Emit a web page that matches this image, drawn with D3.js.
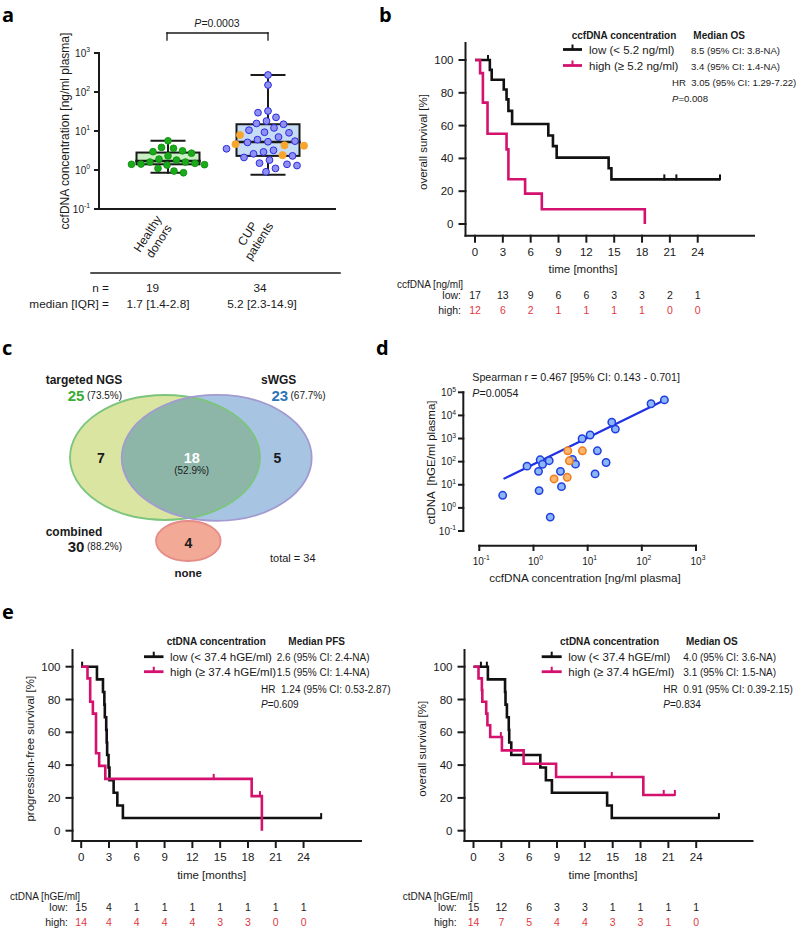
<!DOCTYPE html>
<html><head><meta charset="utf-8">
<script src="https://cdn.jsdelivr.net/npm/d3@7"></script>
<style>body{margin:0;background:#fff}svg{display:block}</style>
</head><body><svg id="c" width="800" height="928"></svg>
<script>
// ================= DATA =================
// Panel a
const aGroupLines = [["Healthy","donors"],["CUP","patients"]];
const aHealthy = [5.6,3.6,2.95,3.1,3.8,2.7,2.3,1.8,1.6,1.6,1.9,1.4,1.42,1.48,1.34,1.37,1.1,0.85,0.94];
const aCupBlue = [273,151,32.6,29.5,22.4,18,15.6,14.9,12,10.5,9.3,9,7,6,5.5,5.3,5.1,3.5,3.2,2.9,2.6,2.3,2.1,1.8,1.5,1.4,1.3,1.1,0.9];
const aCupOrange = [7.9,4.6,4.3,4.2,2.4];
const aQ1 = [1.4,2.3], aMed = [1.7,5.2], aQ3 = [2.8,14.9], aWLo = [0.85,0.75], aWHi = [5.6,273];
const aN = ["19","34"];
const aMedIQR = ["1.7 [1.4-2.8]","5.2 [2.3-14.9]"];
const aPval = "0.0003";
const logTicksA = [0.1,1,10,100,1000];
const logTicksD = [0.1,1,10,100,1000,10000,100000];
const logTicksDx = [0.1,1,10,100,1000];

// KM shared
const kmTicks = [0,3,6,9,12,15,18,21,24];
const kmYTicks = [0,20,40,60,80,100];

// Panel b (OS by ccfDNA)
const bLowT = [0,1.6,1.8,3.1,3.4,3.6,4.0,7.9,8.4,8.8,14.4,14.7,26.4];
const bLowS = [100,94,88,82,76,69,61,54,47.5,40.5,34,27.2,27.2];
const bLowCens = [1.4,20.4,21.7,26.4];
const bHighT = [0,0.55,0.85,1.35,3.4,3.6,5.4,7.2,18.3];
const bHighS = [100,92,74,55,45.5,27.3,18.5,9,0];
const bHighCens = [];
const bRiskLow = [17,13,9,6,6,3,3,2,1];
const bRiskHigh = [12,6,2,1,1,1,1,0,0];

// Panel e left (PFS by ctDNA)
const eLLowT = [0,1.7,2.35,2.5,2.55,2.7,2.75,2.8,2.95,3.05,3.5,3.9,4.5,25.9];
const eLLowS = [100,92.3,84.6,76.9,69.2,61.5,53.8,46.2,38.5,30.8,23.1,15.4,7.7,7.7];
const eLLowCens = [0.1,25.9];
const eLHighT = [0,0.68,0.97,1.26,1.6,1.94,2.6,18.4,19.5];
const eLHighS = [100,92.9,78.6,71.4,47.2,39.5,31.6,21.1,0];
const eLHighCens = [14.3,19.3];
const eLRiskLow = [15,4,1,1,1,1,1,1,1];
const eLRiskHigh = [14,4,4,4,4,3,3,0,0];

// Panel e right (OS by ctDNA)
const eRLowT = [0,1.55,3.4,3.45,3.6,3.8,3.85,4.07,7.2,7.8,8.45,14.4,14.9,26.45];
const eRLowS = [100,92.3,84.6,76.9,69.2,61.5,53.8,46.2,38.5,30.8,23.1,15.4,7.7,7.7];
const eRLowCens = [0.8,1.44,26.45];
const eRHighT = [0,0.54,0.9,0.95,1.37,1.5,1.8,3.06,5.4,8.9,18.3,21.7];
const eRHighS = [100,92.9,85.7,78.6,71.4,64.3,57.1,49,40.8,32.7,21.8,21.8];
const eRHighCens = [2.95,14.9,20.5,21.7];
const eRRiskLow = [15,12,6,3,3,1,1,1,1];
const eRRiskHigh = [14,7,5,4,4,3,3,1,0];

// Panel c (Venn)
const vennNames = ["targeted NGS","sWGS"];
const vennTotals = [25,23];
const vennTotalsPct = ["(73.5%)","(67.7%)"];
const vennOnly = [7,5];
const vennBoth = 18, vennBothPct = "(52.9%)";
const vennNone = 4, vennCombined = 30, vennCombinedPct = "(88.2%)", vennTotal = 34;

// Panel d (scatter)
const dBlueX = [0.27,0.76,1.33,1.47,1.24,1.95,1.27,2.04,3.15,3.29,5.25,5.97,7.9,11.1,15.1,13.7,21.9,27.9,32.5,148,261];
const dBlueY = [3.5,64,120,77,38,110,5.6,0.40,38,8.3,125,78,980,1420,295,29.5,92,5100,2560,32000,47000];
const dOrangeX = [4.3,8.0,4.6,2.4,4.2];
const dOrangeY = [295,295,109,17.8,21];
const dFitX = [0.28,265];
const dFitY = [18,46000];

// ================= DRAW =================
const F = '"Liberation Sans", Arial, Helvetica, sans-serif';
const svg = d3.select("#c");
svg.append("rect").attr("width",800).attr("height",928).attr("fill","#fff");
const INK = "#1a1a1a";
const PINK = "#d4116e", RED = "#e2383e";

function T(sel,x,y,s,o={}){
  const t = sel.append("text").attr("x",x).attr("y",y).attr("dy","0.35em")
    .attr("font-family",o.family||F).attr("font-size",o.size||11.5)
    .attr("font-weight",o.weight||"normal").attr("fill",o.fill||INK)
    .attr("text-anchor",o.anchor||"start").style("white-space","pre");
  if(o.rotate!=null) t.attr("transform",`rotate(${o.rotate},${x},${y})`);
  if(s!=null) t.text(s);
  return t;
}
function pTxt(sel,x,y,val,o={}){
  const t=T(sel,x,y,null,o);
  t.append("tspan").attr("font-style","italic").text("P");
  t.append("tspan").text("="+val);
  return t;
}
function pow10(sel,x,y,v,size,anchor){
  const e = Math.round(Math.log10(v));
  const t=T(sel,x,y,null,{size,anchor});
  t.append("tspan").text("10");
  t.append("tspan").attr("dy",-size*0.42).attr("font-size",size*0.68).text(String(e));
  return t;
}
function line(sel,x1,y1,x2,y2,w=2,c=INK){
  return sel.append("line").attr("x1",x1).attr("y1",y1).attr("x2",x2).attr("y2",y2)
    .attr("stroke",c).attr("stroke-width",w).attr("stroke-linecap","square");
}

// panel letters
const LF = '"Open Sans", "Liberation Sans", Arial, sans-serif';
[["a",2,22],["b",379,22],["c",2,355],["d",376,355],["e",2,619]].forEach(([s,x,y])=>{
  svg.append("text").attr("x",x).attr("y",y).attr("font-family",LF).attr("font-weight",700)
    .attr("font-size",20).attr("fill","#000").text(s);
});

// ---------- Panel a ----------
{
  const g = svg.append("g");
  const y = d3.scaleLog().domain([0.1,1000]).range([209,53]);
  const cx = [168,268];
  line(g,99,53,99,209);
  line(g,99,209,335,209);
  logTicksA.forEach(v=>{ line(g,95,y(v),99,y(v)); pow10(g,90,y(v),v,10,"end"); });
  T(g,65,131,"ccfDNA concentration [ng/ml plasma]",{size:12,anchor:"middle",rotate:-90});
  line(g,cx[0]-1,33,cx[1],33,1.3); line(g,cx[0]-1,33,cx[0]-1,40,1.3); line(g,cx[1],33,cx[1],40,1.3);
  pTxt(g,217,23.5,aPval,{size:10.5,anchor:"middle"});
  const fills = ["#c9f0c3","#c6dcf4"];
  cx.forEach((c,i)=>{
    line(g,c,y(aWLo[i]),c,y(aWHi[i]),2);
    line(g,c-16.5,y(aWLo[i]),c+16.5,y(aWLo[i]),2);
    line(g,c-16.5,y(aWHi[i]),c+16.5,y(aWHi[i]),2);
    g.append("rect").attr("x",c-31.5).attr("width",63).attr("y",y(aQ3[i])).attr("height",y(aQ1[i])-y(aQ3[i]))
      .attr("fill",fills[i]).attr("stroke",INK).attr("stroke-width",2);
    line(g,c-31.5,y(aMed[i]),c+31.5,y(aMed[i]),2.5);
  });
  function swarm(vals,cxp,sp){
    const pts = vals.map(v=>({v,y:y(v)}));
    const order = pts.slice().sort((a,b)=>a.y-b.y);
    const placed=[];
    order.forEach((p,k)=>{
      for(let o=0;o<60;o+=0.5){
        const sgn = (k%2===0)?1:-1;
        let ok=false;
        for(const s of [sgn,-sgn]){
          const xx = cxp + s*o;
          if(placed.every(q=>Math.hypot(q.x-xx,q.y-p.y)>=sp)){p.x=xx;ok=true;break;}
        }
        if(ok)break;
      }
      placed.push(p);
    });
    return pts;
  }
  const gp = swarm(aHealthy,cx[0],9.2);
  g.selectAll(".hp").data(gp).join("circle").attr("cx",d=>d.x).attr("cy",d=>d.y).attr("r",3.4)
    .attr("fill","#1aab1a").attr("stroke","#0f8a0f").attr("stroke-width",0.8);
  const cupAll = aCupBlue.map(v=>({v,o:false})).concat(aCupOrange.map(v=>({v,o:true})));
  const cp = swarm(cupAll.map(d=>d.v),cx[1],10);
  cp.forEach((p,i)=>p.o=cupAll[i].o);
  g.selectAll(".cb").data(cp.filter(d=>!d.o)).join("circle").attr("cx",d=>d.x).attr("cy",d=>d.y).attr("r",3.4)
    .attr("fill","#9090f2").attr("stroke","#2c2ce0").attr("stroke-width",1);
  g.selectAll(".co").data(cp.filter(d=>d.o)).join("circle").attr("cx",d=>d.x).attr("cy",d=>d.y).attr("r",3.6)
    .attr("fill","#f7a52e").attr("stroke","#f7a52e").attr("stroke-width",0.8);
  cx.forEach((c,i)=>{
    const t = g.append("text").attr("transform",`translate(${c-17},236) rotate(-57)`)
      .attr("font-family",F).attr("font-size",12).attr("fill",INK).attr("text-anchor","middle");
    t.append("tspan").attr("x",0).attr("y",0).text(aGroupLines[i][0]);
    t.append("tspan").attr("x",0).attr("y",13.5).text(aGroupLines[i][1]);
  });
  line(g,91,273,340,273,1.5);
  T(g,109,288,"n =",{size:11.8,anchor:"end"});
  T(g,109,304,"median [IQR] =",{size:11.8,anchor:"end"});
  T(g,152.5,288,aN[0],{size:11.8,anchor:"middle"});
  T(g,260,288,aN[1],{size:11.8,anchor:"middle"});
  T(g,158,304,aMedIQR[0],{size:11.8,anchor:"middle"});
  T(g,262,304,aMedIQR[1],{size:11.8,anchor:"middle"});
}

// ---------- KM helper ----------
function km(cfg){
  const g = svg.append("g");
  const x = d3.scaleLinear().domain([0,24]).range([cfg.t0X,cfg.t0X+24*cfg.ppm]);
  const y = d3.scaleLinear().domain([0,100]).range([cfg.y0,cfg.y100]);
  line(g,cfg.axisX,cfg.axisTop,cfg.axisX,cfg.axisY);
  line(g,cfg.axisX,cfg.axisY,cfg.axisRight,cfg.axisY);
  kmYTicks.forEach(v=>{ line(g,cfg.axisX-6,y(v),cfg.axisX,y(v)); T(g,cfg.axisX-12,y(v),String(v),{size:11.5,anchor:"end"}); });
  kmTicks.forEach(v=>{ line(g,x(v),cfg.axisY,x(v),cfg.axisY+6); T(g,x(v),cfg.axisY+16,String(v),{size:11.5,anchor:"middle"}); });
  T(g,cfg.axisX-43,(y(0)+y(100))/2,cfg.ylab,{size:11.5,anchor:"middle",rotate:-90});
  T(g,cfg.xlabX,cfg.axisY+33.5,"time [months]",{size:11.5,anchor:"middle"});
  const ln = d3.line().x(d=>x(d[0])).y(d=>y(d[1])).curve(d3.curveStepAfter);
  function curve(Tt,S,cens,col){
    g.append("path").attr("d",ln(Tt.map((t,i)=>[t,S[i]]))).attr("fill","none").attr("stroke",col)
      .attr("stroke-width",2.6).attr("stroke-linejoin","miter");
    cens.forEach(c=>{
      let s=S[0]; Tt.forEach((t,i)=>{ if(t<=c) s=S[i]; });
      line(g,x(c),y(s)+1,x(c),y(s)-5,2,col).attr("stroke-linecap","butt");
    });
  }
  curve(cfg.lowT,cfg.lowS,cfg.lowC,"#111");
  curve(cfg.highT,cfg.highS,cfg.highC,PINK);
  const L = cfg.leg;
  T(g,L.hx,L.hy,L.head,{size:10,weight:"bold"});
  T(g,L.mx,L.hy,L.medHead,{size:10,weight:"bold"});
  [["#111",L.r1y,L.lowLab,L.s1],[PINK,L.r2y,L.highLab,L.s2]].forEach(([col,yy,lab,st])=>{
    line(g,L.lx1,yy,L.lx2,yy,2.8,col).attr("stroke-linecap","butt");
    line(g,(L.lx1+L.lx2)/2,yy,(L.lx1+L.lx2)/2,yy-5,2,col).attr("stroke-linecap","butt");
    T(g,L.tx,yy,lab,{size:11.5});
    T(g,L.sx,yy+1,st,{size:L.ss||10});
  });
  T(g,L.hrx,L.hry,L.hr,{size:L.ss||10});
  pTxt(g,L.hrx,L.hry+15.6,L.p,{size:L.ss||10});
  const R = cfg.risk;
  T(g,R.hx,R.hy,R.head,{size:10});
  T(g,R.lx,R.hy+11.5,"low:",{size:10.5,anchor:"end"});
  T(g,R.lx,R.hy+26,"high:",{size:10.5,anchor:"end"});
  kmTicks.forEach((t,i)=>{
    T(g,x(t),R.hy+11.5,String(cfg.riskLow[i]),{size:10.5,anchor:"middle"});
    T(g,x(t),R.hy+26,String(cfg.riskHigh[i]),{size:10.5,anchor:"middle",fill:RED});
  });
}

km({axisX:465.5,t0X:475,ppm:9.28,axisRight:754,y0:224,y100:60,axisTop:43,axisY:235.7,
  ylab:"overall survival [%]",xlabX:583,
  lowT:bLowT,lowS:bLowS,lowC:bLowCens,highT:bHighT,highS:bHighS,highC:bHighCens,
  riskLow:bRiskLow,riskHigh:bRiskHigh,
  leg:{hx:571.7,hy:35,head:"ccfDNA concentration",mx:693.3,medHead:"Median OS",lx1:563,lx2:582,r1y:49.5,r2y:65.5,
    tx:589,lowLab:"low (< 5.2 ng/ml)",highLab:"high (≥ 5.2 ng/ml)",sx:691,s1:"8.5 (95% CI: 3.8-NA)",s2:"3.4 (95% CI: 1.4-NA)",
    hrx:672,hry:82.7,hr:"HR  3.05 (95% CI: 1.29-7.22)",p:"0.008",ss:9.6},
  risk:{hx:397,hy:284.3,head:"ccfDNA [ng/ml]",lx:461}});

km({axisX:72.5,t0X:81.2,ppm:9.265,axisRight:361,y0:830.7,y100:666.7,axisTop:650,axisY:841,
  ylab:"progression-free survival [%]",xlabX:211.7,
  lowT:eLLowT,lowS:eLLowS,lowC:eLLowCens,highT:eLHighT,highS:eLHighS,highC:eLHighCens,
  riskLow:eLRiskLow,riskHigh:eLRiskHigh,
  leg:{hx:166.7,hy:641.7,head:"ctDNA concentration",mx:288.3,medHead:"Median PFS",lx1:144,lx2:163.5,r1y:656.7,r2y:671.7,
    tx:170,lowLab:"low (< 37.4 hGE/ml)",highLab:"high (≥ 37.4 hGE/ml)",sx:276.7,s1:"2.6 (95% CI: 2.4-NA)",s2:"1.5 (95% CI: 1.4-NA)",
    hrx:261,hry:689.3,hr:"HR  1.24 (95% CI: 0.53-2.87)",p:"0.609"},
  risk:{hx:10,hy:896,head:"ctDNA [hGE/ml]",lx:68}});

km({axisX:464.5,t0X:473.5,ppm:9.28,axisRight:752.5,y0:830.7,y100:666.7,axisTop:650,axisY:841,
  ylab:"overall survival [%]",xlabX:603,
  lowT:eRLowT,lowS:eRLowS,lowC:eRLowCens,highT:eRHighT,highS:eRHighS,highC:eRHighCens,
  riskLow:eRRiskLow,riskHigh:eRRiskHigh,
  leg:{hx:560,hy:641.7,head:"ctDNA concentration",mx:686,medHead:"Median OS",lx1:541.7,lx2:561.7,r1y:656.7,r2y:671.7,
    tx:568.3,lowLab:"low (< 37.4 hGE/ml)",highLab:"high (≥ 37.4 hGE/ml)",sx:683.3,s1:"4.0 (95% CI: 3.6-NA)",s2:"3.1 (95% CI: 1.5-NA)",
    hrx:663.3,hry:689.3,hr:"HR  0.91 (95% CI: 0.39-2.15)",p:"0.834"},
  risk:{hx:402.7,hy:896,head:"ctDNA [hGE/ml]",lx:456.7}});

// ---------- Panel c (Venn) ----------
{
  const g = svg.append("g");
  const E1 = {cx:165,cy:457.5,rx:95,ry:62.5}, E2 = {cx:216.7,cy:457.8,rx:95,ry:63};
  const defs = svg.append("defs");
  defs.append("clipPath").attr("id","clipL").append("ellipse").attr("cx",E1.cx).attr("cy",E1.cy).attr("rx",E1.rx).attr("ry",E1.ry);
  const el = (e)=>g.append("ellipse").attr("cx",e.cx).attr("cy",e.cy).attr("rx",e.rx).attr("ry",e.ry);
  el(E1).attr("fill","#d9e5a0");
  el(E2).attr("fill","#a8c4e3");
  el(E2).attr("fill","#8db6a9").attr("clip-path","url(#clipL)");
  el(E1).attr("fill","none").attr("stroke","#7cc57c").attr("stroke-width",1.8);
  el(E2).attr("fill","none").attr("stroke","#a29ad0").attr("stroke-width",1.8);
  g.append("ellipse").attr("cx",188.3).attr("cy",541).attr("rx",32.3).attr("ry",20)
    .attr("fill","#f2a995").attr("stroke","#e68c88").attr("stroke-width",1.8);
  const B = F;
  T(g,45.7,379.3,vennNames[0],{size:12,weight:"bold",family:B});
  T(g,261,379.3,vennNames[1],{size:12,weight:"bold",family:B});
  T(g,67.7,395.5,String(vennTotals[0]),{size:15,weight:"bold",fill:"#3aab35",family:B});
  T(g,87,395,vennTotalsPct[0],{size:10});
  T(g,271.5,395.5,String(vennTotals[1]),{size:15,weight:"bold",fill:"#2e75b6",family:B});
  T(g,290.5,395,vennTotalsPct[1],{size:10});
  T(g,101,458.3,String(vennOnly[0]),{size:14,weight:"bold",anchor:"middle",family:B});
  T(g,277.3,458.3,String(vennOnly[1]),{size:14,weight:"bold",anchor:"middle",family:B});
  T(g,191.7,457.7,String(vennBoth),{size:14.5,weight:"bold",anchor:"middle",fill:"#fff",family:B});
  T(g,191.7,470.7,vennBothPct,{size:10,anchor:"middle"});
  T(g,188.3,543,String(vennNone),{size:14,weight:"bold",anchor:"middle",family:B});
  T(g,188.3,573,"none",{size:11.5,weight:"bold",anchor:"middle",family:B});
  T(g,45.7,531.7,"combined",{size:12,weight:"bold",family:B});
  T(g,67.7,546.5,String(vennCombined),{size:15,weight:"bold",family:B});
  T(g,87,546,vennCombinedPct,{size:10});
  T(g,270,558,"total = "+vennTotal,{size:11});
}

// ---------- Panel d (scatter) ----------
{
  const g = svg.append("g");
  const x = d3.scaleLog().domain([0.1,1000]).range([479.3,696]);
  const y = d3.scaleLog().domain([0.1,100000]).range([531,392.3]);
  line(g,463.3,392.3,463.3,531);
  line(g,479.3,545.7,696,545.7);
  logTicksD.forEach(v=>{ line(g,459,y(v),463.3,y(v)); pow10(g,456,y(v),v,10,"end"); });
  logTicksDx.forEach(v=>{ line(g,x(v),545.7,x(v),550); pow10(g,x(v)+2,561,v,10,"middle"); });
  T(g,431,462.5,"ctDNA  [hGE/ml plasma]",{size:11.5,anchor:"middle",rotate:-90});
  T(g,585,577.5,"ccfDNA concentration [ng/ml plasma]",{size:11.7,anchor:"middle"});
  T(g,472.3,377.7,"Spearman r = 0.467 [95% CI: 0.143 - 0.701]",{size:10.7});
  pTxt(g,472.3,393,"0.0054",{size:10.7});
  g.append("path").attr("d",d3.line().x(d=>x(d[0])).y(d=>y(d[1]))(dFitX.map((v,i)=>[v,dFitY[i]])))
    .attr("stroke","#1f30e6").attr("stroke-width",2.2).attr("fill","none");
  g.selectAll(".db").data(dBlueX.map((v,i)=>[v,dBlueY[i]])).join("circle")
    .attr("cx",d=>x(d[0])).attr("cy",d=>y(d[1])).attr("r",3.7)
    .attr("fill","#8cb6f7").attr("stroke","#1f3fe0").attr("stroke-width",1.5);
  g.selectAll(".do").data(dOrangeX.map((v,i)=>[v,dOrangeY[i]])).join("circle")
    .attr("cx",d=>x(d[0])).attr("cy",d=>y(d[1])).attr("r",3.7)
    .attr("fill","#f9b66e").attr("stroke","#f07d1e").attr("stroke-width",1.5);
}
</script></body></html>
